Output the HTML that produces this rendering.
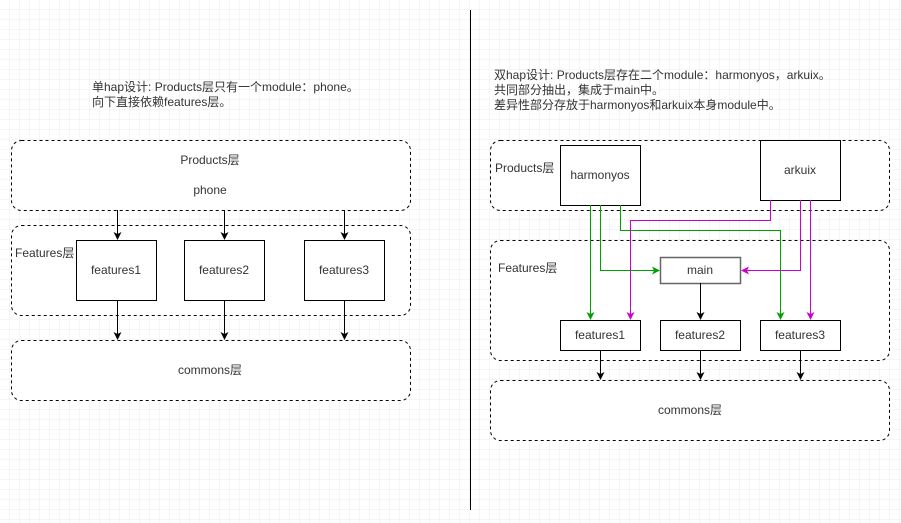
<!DOCTYPE html>
<html><head><meta charset="utf-8"><style>
html,body{margin:0;padding:0;background:#fff}
svg{display:block}
text{font-family:"Liberation Sans","Noto Sans CJK SC",sans-serif;font-size:12px;fill:#333}
</style></head><body>
<svg width="901" height="523" viewBox="0 0 901 523" xmlns="http://www.w3.org/2000/svg">
<defs>
<pattern id="g" width="10" height="10" patternUnits="userSpaceOnUse"><path d="M10 0V10M0 10H10" stroke="#ececec" stroke-width="1" fill="none"/></pattern>
</defs>
<rect x="-0.5" y="-0.5" width="902" height="524" fill="url(#g)"/>
<g fill="#fff" stroke="#000" stroke-dasharray="3,3" stroke-width="1">
<rect x="11.5" y="140.5" width="399" height="70" rx="10"/>
<rect x="11.5" y="225.5" width="399" height="90" rx="10"/>
<rect x="11.5" y="340.5" width="399" height="60" rx="10"/>
<rect x="490.5" y="140.5" width="399" height="70" rx="10"/>
<rect x="490.5" y="240.5" width="399" height="120" rx="10"/>
<rect x="490.5" y="380.5" width="399" height="60" rx="10"/>
</g>
<line x1="470.5" y1="10" x2="470.5" y2="510" stroke="#000"/>
<text x="92" y="91">单hap设计: Products层只有一个module：phone。</text>
<text x="92" y="106">向下直接依赖features层。</text>
<text x="494" y="79">双hap设计: Products层存在二个module：harmonyos，arkuix。</text>
<text x="494" y="94">共同部分抽出，集成于main中。</text>
<text x="494" y="109">差异性部分存放于harmonyos和arkuix本身module中。</text>
<text x="210" y="164" text-anchor="middle">Products层</text>
<text x="210" y="194" text-anchor="middle">phone</text>
<text x="15" y="257">Features层</text>
<text x="210" y="374" text-anchor="middle">commons层</text>
<text x="495" y="172">Products层</text>
<text x="498" y="272">Features层</text>
<text x="690" y="414" text-anchor="middle">commons层</text>
<g fill="#fff" stroke="#000">
<rect x="76.5" y="240.5" width="80" height="60"/>
<rect x="184.5" y="240.5" width="80" height="60"/>
<rect x="304.5" y="240.5" width="80" height="60"/>
<rect x="560.5" y="145.5" width="80" height="60"/>
<rect x="760.5" y="140.5" width="80" height="60"/>
<rect x="660.5" y="257.5" width="80" height="26" stroke="#666" stroke-width="1.5"/>
<rect x="560.5" y="320.5" width="80" height="30"/>
<rect x="660.5" y="320.5" width="80" height="30"/>
<rect x="760.5" y="320.5" width="80" height="30"/>
</g>
<g text-anchor="middle">
<text x="116" y="274">features1</text>
<text x="224" y="274">features2</text>
<text x="344" y="274">features3</text>
<text x="600" y="179">harmonyos</text>
<text x="800" y="174">arkuix</text>
<text x="700" y="274">main</text>
<text x="600" y="339">features1</text>
<text x="700" y="339">features2</text>
<text x="800" y="339">features3</text>
</g>
<g stroke="#000" fill="none">
<path d="M117.5 210V236"/><path d="M224.5 210V236"/><path d="M344.5 210V236"/>
<path d="M117.5 300V336"/><path d="M224.5 300V336"/><path d="M344.5 300V336"/>
<path d="M700.5 283V316"/>
<path d="M600.5 350V376"/><path d="M700.5 350V376"/><path d="M800.5 350V376"/>
</g>
<g fill="#000">
<path d="M113.5 232L117.5 240L121.5 232L117.5 234Z"/>
<path d="M220.5 232L224.5 240L228.5 232L224.5 234Z"/>
<path d="M340.5 232L344.5 240L348.5 232L344.5 234Z"/>
<path d="M113.5 332L117.5 340L121.5 332L117.5 334Z"/>
<path d="M220.5 332L224.5 340L228.5 332L224.5 334Z"/>
<path d="M340.5 332L344.5 340L348.5 332L344.5 334Z"/>
<path d="M696.5 312L700.5 320L704.5 312L700.5 314Z"/>
<path d="M596.5 372L600.5 380L604.5 372L600.5 374Z"/>
<path d="M696.5 372L700.5 380L704.5 372L700.5 374Z"/>
<path d="M796.5 372L800.5 380L804.5 372L800.5 374Z"/>
</g>
<g stroke="#00a000" fill="none">
<path d="M590.5 205V316"/>
<path d="M600.5 205V270.5H656"/>
<path d="M620.5 205V230.5H780.5V316"/>
</g>
<g fill="#00a000">
<path d="M586.5 312L590.5 320L594.5 312L590.5 314Z"/>
<path d="M652 266.5L660 270.5L652 274.5L654 270.5Z"/>
<path d="M776.5 312L780.5 320L784.5 312L780.5 314Z"/>
</g>
<g stroke="#cc00cc" fill="none">
<path d="M770.5 200V220.5H630.5V316"/>
<path d="M800.5 200V270.5H744"/>
<path d="M810.5 200V316"/>
</g>
<g fill="#cc00cc">
<path d="M626.5 312L630.5 320L634.5 312L630.5 314Z"/>
<path d="M749 266.5L741 270.5L749 274.5L747 270.5Z"/>
<path d="M806.5 312L810.5 320L814.5 312L810.5 314Z"/>
</g>
</svg>
</body></html>
